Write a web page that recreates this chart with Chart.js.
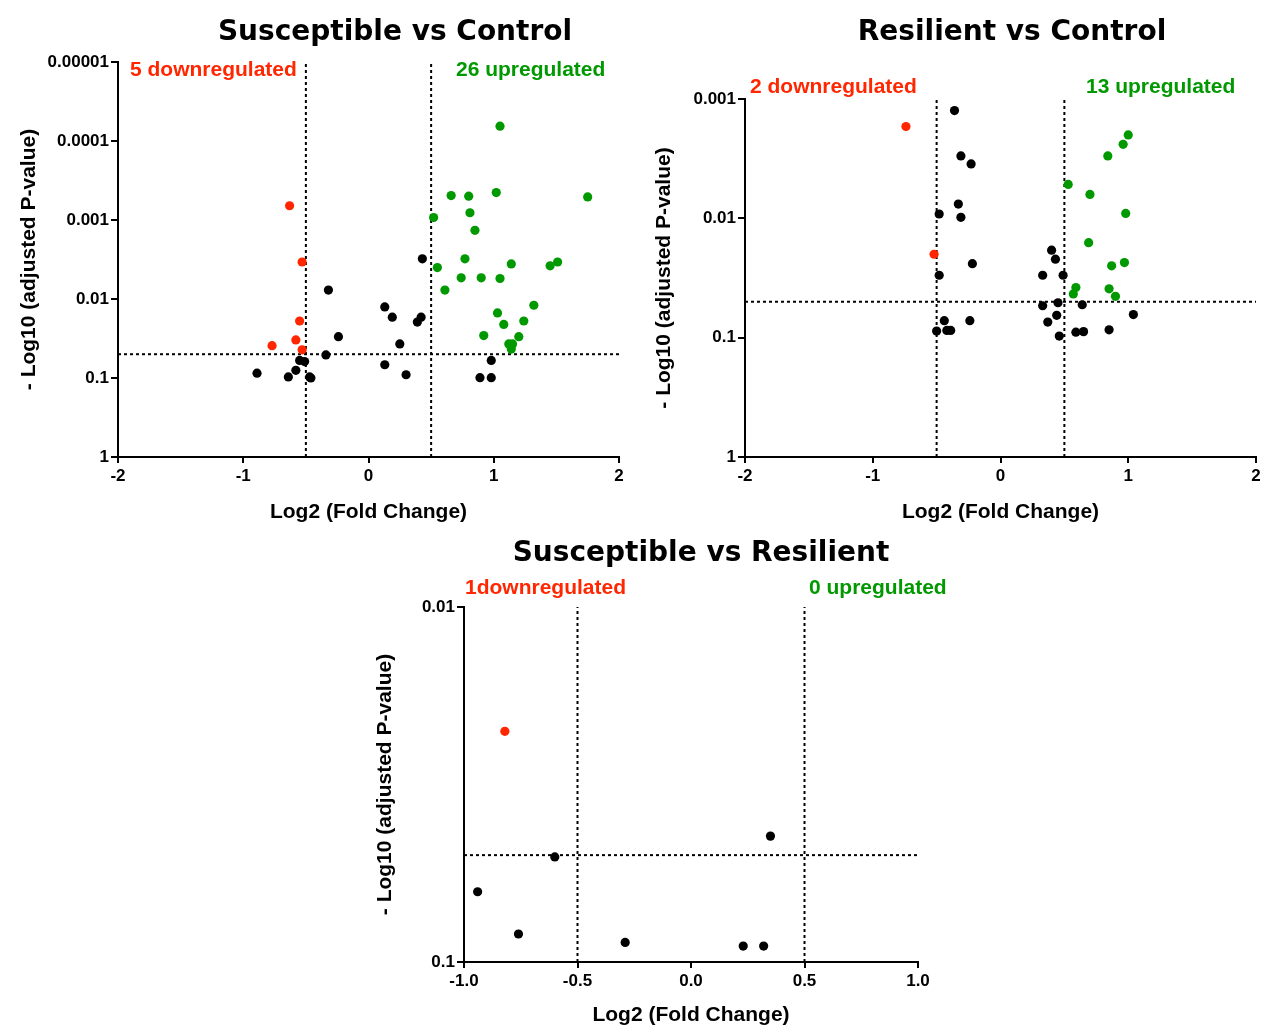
<!DOCTYPE html>
<html>
<head>
<meta charset="utf-8">
<script src="https://cdn.jsdelivr.net/npm/chart.js@4/dist/chart.umd.min.js"></script>
<style>
  html, body { margin: 0; padding: 0; background: #fff; }
  #wrap { position: relative; width: 1268px; height: 1025px; overflow: hidden; }
  canvas { position: absolute; }
</style>
</head>
<body>
<div id="wrap">
  <canvas id="c1" width="640" height="530" style="left:0;top:0"></canvas>
  <canvas id="c2" width="628" height="530" style="left:640px;top:0"></canvas>
  <canvas id="c3" width="600" height="500" style="left:360px;top:530px"></canvas>
</div>
<script>
// thresholds
const fcCut = 0.5;
const pCut = 0.05;

// tick labels
const fcTicksWide = [-2, -1, 0, 1, 2];
const fcTicksNarrow = [-1, -0.5, 0, 0.5, 1];
const pTicks1 = [0.00001, 0.0001, 0.001, 0.01, 0.1, 1];
const pTicks2 = [0.001, 0.01, 0.1, 1];
const pTicks3 = [0.01, 0.1];

// Susceptible vs Control  [log2 FC, adjusted p]
const scDown = [[-0.63, 0.00066], [-0.53, 0.0034], [-0.55, 0.019], [-0.58, 0.033], [-0.77, 0.039], [-0.53, 0.044]];
const scUp = [[1.05, 0.000065], [0.66, 0.00049], [0.80, 0.0005], [1.02, 0.00045], [1.75, 0.00051],
  [0.52, 0.00093], [0.81, 0.00081], [0.85, 0.00135], [0.77, 0.0031], [0.55, 0.004],
  [1.14, 0.0036], [1.45, 0.0038], [1.51, 0.0034], [0.74, 0.0054], [0.90, 0.0054],
  [1.05, 0.0055], [0.61, 0.0077], [1.03, 0.015], [1.08, 0.021], [1.24, 0.019],
  [1.32, 0.012], [0.92, 0.029], [1.20, 0.030], [1.12, 0.037], [1.15, 0.037], [1.14, 0.043]];
const scNs = [[0.43, 0.0031], [-0.32, 0.0077], [0.13, 0.0126], [0.19, 0.017], [0.39, 0.0196],
  [0.42, 0.017], [-0.24, 0.030], [0.25, 0.037], [-0.34, 0.051], [-0.55, 0.060],
  [-0.51, 0.062], [-0.89, 0.087], [-0.64, 0.097], [-0.58, 0.080], [-0.47, 0.097],
  [-0.46, 0.1], [0.13, 0.068], [0.30, 0.091], [0.98, 0.060], [0.89, 0.099], [0.98, 0.099]];

// Resilient vs Control
const rcDown = [[-0.74, 0.0017], [-0.52, 0.020]];
const rcUp = [[1.00, 0.0020], [0.96, 0.0024], [0.84, 0.0030], [0.53, 0.0052], [0.70, 0.0063],
  [0.98, 0.0091], [0.69, 0.016], [0.87, 0.025], [0.97, 0.0235], [0.59, 0.038],
  [0.57, 0.043], [0.85, 0.039], [0.90, 0.045]];
const rcNs = [[-0.36, 0.00125], [-0.31, 0.0030], [-0.23, 0.0035], [-0.33, 0.0076], [-0.48, 0.0092],
  [-0.31, 0.0098], [0.40, 0.0185], [0.43, 0.022], [-0.22, 0.024], [-0.48, 0.030],
  [0.33, 0.030], [0.49, 0.030], [0.33, 0.054], [0.45, 0.051], [0.64, 0.053],
  [0.44, 0.065], [1.04, 0.064], [0.37, 0.074], [0.46, 0.097], [0.59, 0.090],
  [0.65, 0.089], [0.85, 0.086], [-0.44, 0.072], [-0.24, 0.072], [-0.50, 0.088],
  [-0.42, 0.087], [-0.39, 0.087]];

// Susceptible vs Resilient
const srDown = [[-0.82, 0.0224]];
const srUp = [];
const srNs = [[0.35, 0.0442], [-0.60, 0.0506], [-0.94, 0.0634], [-0.76, 0.0834],
  [-0.29, 0.0881], [0.23, 0.0902], [0.32, 0.0902]];

const red = '#ff2600';
const green = '#009900';

// titles and "n regulated" labels
const panelText = {
  id: 'panelText',
  afterDraw(chart, args, o) {
    const ctx = chart.ctx;
    ctx.save();
    ctx.textBaseline = 'middle';
    ctx.textAlign = 'center';
    ctx.fillStyle = '#000';
    ctx.font = 'bold 28px "DejaVu Sans"';
    ctx.fillText(o.title, o.titleX, o.titleY);
    ctx.textAlign = 'left';
    ctx.font = 'bold 21px "Liberation Sans"';
    ctx.fillStyle = red;
    ctx.fillText(o.down, o.downX, o.countY);
    ctx.fillStyle = green;
    ctx.fillText(o.up, o.upX, o.countY);
    ctx.restore();
  }
};

function volcano(id, o) {
  const pts = arr => arr.map(d => ({x: d[0], y: d[1]}));
  const pTop = o.pTicks[0], pBottom = o.pTicks[o.pTicks.length - 1];
  const xMin = o.fcTicks[0], xMax = o.fcTicks[o.fcTicks.length - 1];
  const dashed = data => ({
    data: data, showLine: true, borderColor: '#000', borderWidth: 2, borderDash: [3, 3],
    pointRadius: 0, order: 2, clip: false
  });
  const dots = (data, color) => ({
    data: pts(data), backgroundColor: color, borderWidth: 0, pointRadius: 4.6, order: 1
  });
  const tickFont = { family: '"Liberation Sans", Arial', size: 17, weight: 'bold' };
  const titleFont = { family: '"Liberation Sans", Arial', size: 21, weight: 'bold' };

  return new Chart(document.getElementById(id), {
    type: 'scatter',
    data: {
      datasets: [
        dashed([{x: -fcCut, y: pBottom}, {x: -fcCut, y: pTop}]),
        dashed([{x: fcCut, y: pBottom}, {x: fcCut, y: pTop}]),
        dashed([{x: xMin, y: pCut}, {x: xMax, y: pCut}]),
        dots(o.ns, '#000'),
        dots(o.down, red),
        dots(o.up, green)
      ]
    },
    options: {
      responsive: false,
      animation: false,
      layout: { padding: o.pad },
      plugins: { legend: { display: false }, tooltip: { enabled: false }, panelText: o.text },
      scales: {
        x: {
          type: 'linear', min: xMin, max: xMax,
          afterBuildTicks: s => { s.ticks = o.fcTicks.map(v => ({ value: v })); },
          afterFit: s => { s.height = o.xH; },
          grid: { drawOnChartArea: false, tickLength: 6, color: '#000', lineWidth: 2 },
          border: { display: true, color: '#000', width: 2 },
          ticks: { color: '#000', font: tickFont, padding: 3, maxRotation: 0, autoSkip: false,
                   callback: v => o.fcFmt(v) },
          title: { display: true, text: 'Log2 (Fold Change)', color: '#000', font: titleFont,
                   padding: { top: 0, bottom: o.xTitlePad } }
        },
        y: {
          type: 'logarithmic', reverse: true, min: pTop, max: pBottom,
          afterBuildTicks: s => { s.ticks = o.pTicks.map(v => ({ value: v })); },
          afterFit: s => { s.width = o.yW; },
          grid: { drawOnChartArea: false, tickLength: 7, color: '#000', lineWidth: 2 },
          border: { display: true, color: '#000', width: 2 },
          ticks: { color: '#000', font: tickFont, padding: 2, autoSkip: false,
                   callback: v => String(v) },
          title: { display: true, text: '- Log10 (adjusted P-value)', color: '#000', font: titleFont,
                   padding: { top: o.yTitlePad, bottom: 0 } }
        }
      }
    },
    plugins: [panelText]
  });
}

volcano('c1', {
  down: scDown, up: scUp, ns: scNs,
  fcTicks: fcTicksWide, pTicks: pTicks1, fcFmt: v => String(v),
  pad: { left: 0, top: 62, right: 21, bottom: 0 }, yW: 118, xH: 73,
  xTitlePad: 5, yTitlePad: 17,
  text: { title: 'Susceptible vs Control', titleX: 395, titleY: 33,
          down: '5 downregulated', downX: 130, up: '26 upregulated', upX: 456, countY: 70 }
});

volcano('c2', {
  down: rcDown, up: rcUp, ns: rcNs,
  fcTicks: fcTicksWide, pTicks: pTicks2, fcFmt: v => String(v),
  pad: { left: 0, top: 99, right: 12, bottom: 0 }, yW: 105, xH: 73,
  xTitlePad: 5, yTitlePad: 12,
  text: { title: 'Resilient vs Control', titleX: 372, titleY: 33,
          down: '2 downregulated', downX: 110, up: '13 upregulated', upX: 446, countY: 87 }
});

volcano('c3', {
  down: srDown, up: srUp, ns: srNs,
  fcTicks: fcTicksNarrow, pTicks: pTicks3, fcFmt: v => v.toFixed(1),
  pad: { left: 0, top: 77, right: 42, bottom: 0 }, yW: 104, xH: 68,
  xTitlePad: 2, yTitlePad: 13,
  text: { title: 'Susceptible vs Resilient', titleX: 341, titleY: 24,
          down: '1downregulated', downX: 105, up: '0 upregulated', upX: 449, countY: 58 }
});
</script>
</body>
</html>
